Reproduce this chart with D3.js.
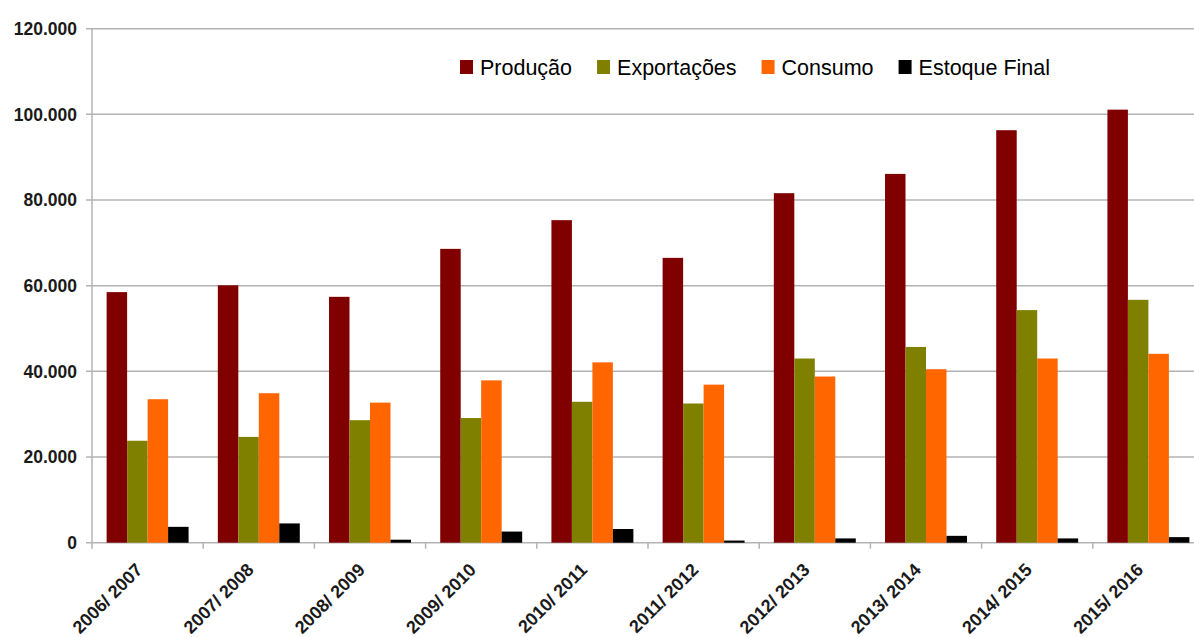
<!DOCTYPE html>
<html>
<head>
<meta charset="utf-8">
<script src="https://cdn.jsdelivr.net/npm/d3@7"></script>
<style>
  html, body { margin: 0; padding: 0; background: #fff; }
  svg { display: block; }
  text { font-family: "Liberation Sans", Arial, sans-serif; }
</style>
</head>
<body>
<svg id="chart" width="1194" height="637"></svg>
<script>
// Safras 2006/2007 a 2015/2016 (mil toneladas)
const categories = ["2006/ 2007", "2007/ 2008", "2008/ 2009", "2009/ 2010", "2010/ 2011",
                    "2011/ 2012", "2012/ 2013", "2013/ 2014", "2014/ 2015", "2015/ 2016"];
const seriesNames = ["Produção", "Exportações", "Consumo", "Estoque Final"];
const producao    = [58500, 60100, 57400, 68600, 75300, 66500, 81600, 86100, 96300, 101100];
const exportacoes = [23800, 24700, 28600, 29100, 32900, 32500, 43000, 45700, 54300, 56700];
const consumo     = [33500, 34900, 32700, 37900, 42100, 36900, 38800, 40500, 43000, 44100];
const estoque     = [3700, 4500, 700, 2600, 3200, 500, 1000, 1600, 1000, 1300];
const yTicks = [0, 20000, 40000, 60000, 80000, 100000, 120000];

const seriesValues = [producao, exportacoes, consumo, estoque];
const colors = ["#800000", "#808000", "#ff6600", "#000000"];

const svg = d3.select("#chart");
const plotLeft = 92, plotRight = 1204, plotTop = 28.7, plotBottom = 542.7;

const x0 = d3.scaleBand().domain(categories).range([plotLeft, plotRight])
  .paddingInner(0.263).paddingOuter(0.1315);
const x1 = d3.scaleBand().domain(seriesNames).range([0, x0.bandwidth()]);
const y = d3.scaleLinear().domain([0, 120000]).range([plotBottom, plotTop]);

const ptBR = d3.formatLocale({ decimal: ",", thousands: ".", grouping: [3], currency: ["", ""] });
const fmt = ptBR.format(",");

const gridColor = "#b3b3b3";

// horizontal gridlines and y tick marks
svg.append("g").selectAll("line").data(yTicks).join("line")
  .attr("x1", plotLeft - 6).attr("x2", 1194)
  .attr("y1", d => y(d)).attr("y2", d => y(d))
  .attr("stroke", gridColor).attr("stroke-width", 1.5);

// y axis line
svg.append("line")
  .attr("x1", plotLeft).attr("x2", plotLeft).attr("y1", plotTop).attr("y2", plotBottom + 6)
  .attr("stroke", gridColor).attr("stroke-width", 1.5);

// category separator ticks below the baseline
const boundaries = categories.map(c => x0(c) - x0.step() * x0.paddingOuter());
svg.append("g").selectAll("line").data(boundaries.slice(1)).join("line")
  .attr("x1", d => d).attr("x2", d => d).attr("y1", plotBottom).attr("y2", plotBottom + 6)
  .attr("stroke", gridColor).attr("stroke-width", 1.5);

// y tick labels
svg.append("g").selectAll("text").data(yTicks).join("text")
  .attr("x", 77).attr("y", d => y(d)).attr("dy", "0.36em")
  .attr("text-anchor", "end")
  .attr("font-size", 17.5).attr("font-weight", "bold").attr("fill", "#1a1a1a")
  .text(d => fmt(d));

// bars
const groups = svg.append("g").selectAll("g").data(categories).join("g")
  .attr("transform", c => `translate(${x0(c)},0)`);
groups.selectAll("rect")
  .data((c, i) => seriesNames.map((s, k) => ({ s, k, v: seriesValues[k][i] })))
  .join("rect")
  .attr("x", d => x1(d.s))
  .attr("width", x1.bandwidth())
  .attr("y", d => y(d.v))
  .attr("height", d => y(0) - y(d.v))
  .attr("fill", d => colors[d.k]);

// rotated category labels
svg.append("g").selectAll("text").data(categories).join("text")
  .attr("transform", c => `translate(${x0(c) + x0.bandwidth() / 2 - 4},571) rotate(-45)`)
  .attr("text-anchor", "end")
  .attr("font-size", 18).attr("font-weight", "bold").attr("fill", "#1a1a1a")
  .text(c => c);

// legend
const legend = svg.append("g");
let lx = 460;
seriesNames.forEach((name, k) => {
  legend.append("rect").attr("x", lx).attr("y", 60).attr("width", 13).attr("height", 14)
    .attr("fill", colors[k]);
  const t = legend.append("text").attr("x", lx + 20).attr("y", 67).attr("dy", "0.36em")
    .attr("font-size", 21.5).attr("fill", "#000").text(name);
  lx += 20 + t.node().getComputedTextLength() + 25;
});
</script>
</body>
</html>
